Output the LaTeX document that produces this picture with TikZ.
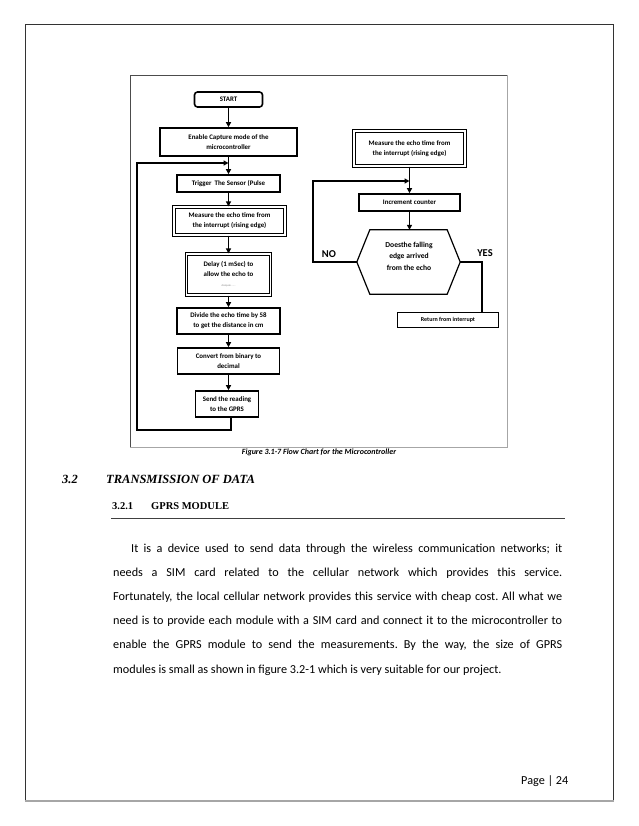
\documentclass[tikz,border=0pt]{standalone}
\usepackage{fontspec}
\setmainfont{Carlito}
\newfontfamily\headfont{Liberation Serif}
\usetikzlibrary{arrows.meta}
\frenchspacing
\begin{document}
\begin{tikzpicture}[x=1pt,y=-1pt,
  boxfont/.style={font=\fontsize{6.9}{10}\selectfont\bfseries},
  box/.style={draw, line width=1.6pt, inner sep=0pt, align=center, boxfont},
  dbox/.style={draw, line width=1.1pt, double, double distance=1.4pt, inner sep=0pt, align=center, boxfont},
  arr/.style={line width=1.3pt, -{Triangle[length=5pt,width=5pt]}},
  ln/.style={line width=1.3pt},
  ptext/.style={anchor=base west, inner sep=0pt, font=\fontsize{12.2}{14}\selectfont},
  lab/.style={font=\fontsize{10.5}{12}\selectfont\bfseries, inner sep=0pt}
]
\useasboundingbox (0,0) rectangle (638,826);
\fill[white] (0,0) rectangle (638,826);
% page border
\draw[line width=1pt, black!80] (25,801) -- (25,25) -- (613,25) -- (613,801);
\draw[line width=1.6pt, gray!70] (24.5,801) -- (613.5,801);
% figure frame
\draw[line width=0.7pt, black!70] (130,447) -- (130,75) -- (507,75);
\draw[line width=0.9pt, gray!70] (130,447) -- (507,447) -- (507,75);

% left column
\node[box, rounded corners=3pt, minimum width=68pt, minimum height=15pt] (start) at (228.5,99.5) {START};
\node[box, minimum width=137pt, minimum height=28pt] (enable) at (228.5,142) {Enable Capture mode of the\\microcontroller};
\node[box, minimum width=103pt, minimum height=17pt] (trig) at (228.5,183.5) {Trigger\ \ The Sensor (Pulse};
\node[dbox, minimum width=111pt, minimum height=28pt] (meas1) at (229.5,221) {Measure the echo time from\\the interrupt (rising edge)};
\node[dbox, minimum width=84pt, minimum height=41pt] (delay) at (228.5,274.5) {Delay (1 mSec) to\\allow the echo to\\{\fontsize{2.6}{4}\selectfont\mdseries\color{gray}dissipate ......}};
\node[box, minimum width=103pt, minimum height=26pt] (div) at (228.5,321) {Divide the echo time by 58\\to get the distance in cm};
\node[box, minimum width=102pt, minimum height=26pt] (conv) at (228.5,361) {Convert from binary to\\decimal};
\node[box, minimum width=63pt, minimum height=26pt] (send) at (227,404) {Send the reading\\to the GPRS};

\draw[arr] (start.south) -- (start.south |- enable.north);
\draw[arr] (enable.south) -- (enable.south |- trig.north);
\draw[arr] (trig.south) -- (trig.south |- meas1.north);
\draw[arr] (meas1.south -| delay.center) -- (delay.north);
\draw[arr] (delay.south) -- (delay.south |- div.north);
\draw[arr] (div.south) -- (div.south |- conv.north);
\draw[arr] (conv.south) -- (conv.south |- send.north);

\coordinate (lp1) at (231,430);
\coordinate (lp2) at (137,430);
\coordinate (lp3) at (137,163);
\coordinate (lp4) at (228.5,163);
\draw[arr] (send.south -| lp1) -- (lp1) -- (lp2) -- (lp3) -- (lp4);

% right column
\node[dbox, minimum width=111pt, minimum height=35pt] (meas2) at (409.5,148.5) {Measure the echo time from\\the interrupt (rising edge)};
\node[box, minimum width=101pt, minimum height=17pt] (inc) at (409.5,202.5) {Increment counter};
\node[inner sep=0pt, minimum width=103pt, minimum height=64pt] (dec) at (408.5,262) {};
\draw[line width=1.2pt] (dec.west) -- ([xshift=13pt]dec.north west) -- ([xshift=-13pt]dec.north east) -- (dec.east) -- ([xshift=-13pt]dec.south east) -- ([xshift=13pt]dec.south west) -- cycle;
\node[align=center, inner sep=0pt, font=\fontsize{7.6}{11.5}\selectfont\bfseries] (dect) at (409,256) {Doesthe falling\\edge arrived\\from the echo};
\node[draw, line width=0.8pt, minimum width=101pt, minimum height=15pt, inner sep=0pt, font=\fontsize{6}{7}\selectfont\bfseries] (ret) at (448,320) {Return from interrupt};

\draw[arr] (meas2.south) -- (meas2.south |- inc.north);
\draw[arr] (inc.south) -- (inc.south |- dec.north);
\coordinate (n1) at (313,262);
\coordinate (n2) at (313,181);
\coordinate (n3) at (409.5,181);
\draw[arr] (dec.west) -- (n1) -- (n2) -- (n3);
\coordinate (y1) at (482,262);
\draw[ln] (dec.east) -- (y1) -- (y1 |- ret.north);

\node[lab] (no) at (329,254) {NO};
\node[lab] (yes) at (485,253) {YES};

\node[inner sep=0pt, font=\fontsize{8}{10}\selectfont\bfseries\itshape] (cap) at (319,452.5) {Figure 3.1-7 Flow Chart for the Microcontroller};

% headings
\node[anchor=base west, inner sep=0pt, font=\headfont\fontsize{12.5}{14}\selectfont\bfseries\itshape] (h1n) at (62,483) {3.2};
\node[anchor=base west, inner sep=0pt, font=\headfont\fontsize{12.5}{14}\selectfont\bfseries\itshape] (h1) at (106,483) {TRANSMISSION OF DATA};
\node[anchor=base west, inner sep=0pt, font=\headfont\fontsize{10.5}{12}\selectfont\bfseries] (h2n) at (112,509) {3.2.1};
\node[anchor=base west, inner sep=0pt, font=\headfont\fontsize{10.5}{12}\selectfont\bfseries] (h2) at (151,509) {GPRS MODULE};
\draw[line width=0.8pt, black!75] (111,518) -- (565,518);

% paragraph
\node[ptext] (p1) at (131,552) {\makebox[431pt][s]{It is a device used to send data through the wireless communication networks; it}};
\node[ptext] (p2) at (113,576) {\makebox[449pt][s]{needs a SIM card related to the cellular network which provides this service.}};
\node[ptext] (p3) at (113,600.5) {\makebox[449pt][s]{Fortunately, the local cellular network provides this service with cheap cost. All what we}};
\node[ptext] (p4) at (113,624.5) {\makebox[449pt][s]{need is to provide each module with a SIM card and connect it to the microcontroller to}};
\node[ptext] (p5) at (113,648.5) {\makebox[449pt][s]{enable the GPRS module to send the measurements. By the way, the size of GPRS}};
\node[ptext] (p6) at (113,673) {modules is small as shown in figure 3.2-1 which is very suitable for our project.};

\node[ptext] (pg) at (521,784) {Page | 24};
\end{tikzpicture}
\end{document}
